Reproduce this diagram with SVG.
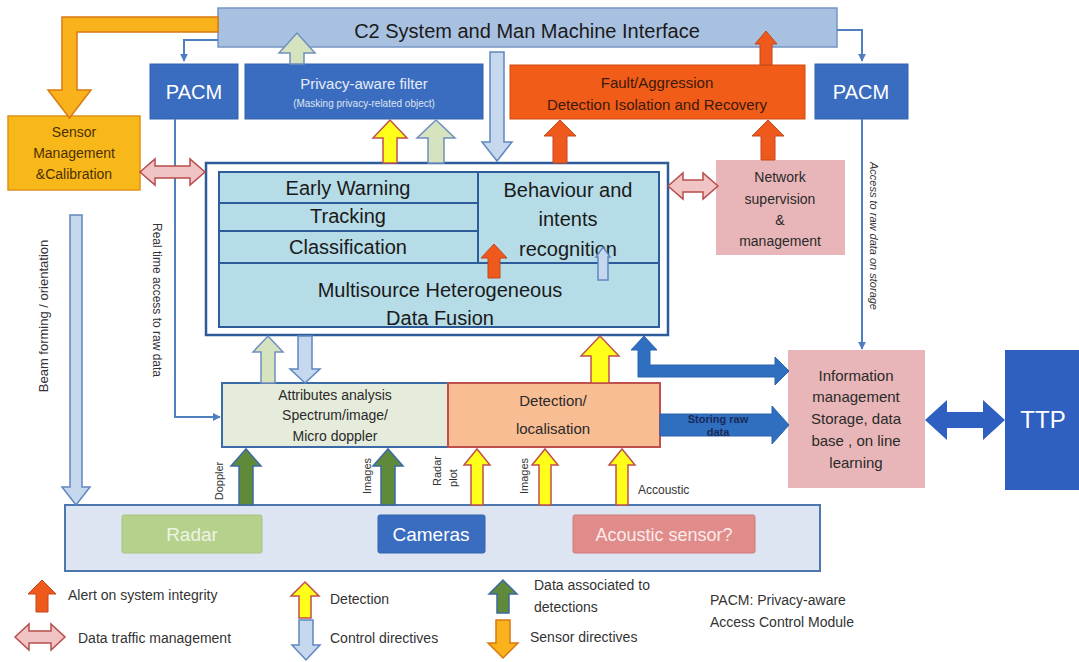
<svg xmlns="http://www.w3.org/2000/svg" width="1079" height="662" viewBox="0 0 1079 662">
<style>
text{font-family:"Liberation Sans",Arial,sans-serif;}
.c2{fill:#a9c1e0;stroke:#7595c4;stroke-width:1.5}
.blue{fill:#3a6cbf;stroke:#3262ad;stroke-width:1}
.fault{fill:#f25c19;stroke:#d04a10;stroke-width:1}
.sens{fill:#f9b819;stroke:#e0921a;stroke-width:1.5}
.outer{fill:#ffffff;stroke:#2e5c9a;stroke-width:2.5}
.cell{fill:#b6dce8;stroke:#2e5c9a;stroke-width:2}
.pink{fill:#e8b6b8;stroke:none}
.ttp{fill:#2f5fc0}
.attr{fill:#e6ecdb;stroke:#3b6aa8;stroke-width:2}
.det{fill:#f9bd94;stroke:#c0504d;stroke-width:2}
.bar{fill:#dce5f1;stroke:#4e77b0;stroke-width:2}
.radar{fill:#b5d18c;stroke:#a8c47e;stroke-width:1}
.acou{fill:#e08c8a;stroke:#d07a78;stroke-width:1}
.aRed{fill:#ef5a1c;stroke:#c0461a;stroke-width:1}
.aYel{fill:#ffff1a;stroke:#c0504d;stroke-width:1.5}
.aPg{fill:#d5e3bf;stroke:#6f8fbf;stroke-width:1.5}
.aLb{fill:#c6d8ee;stroke:#5f87bf;stroke-width:1.5}
.aGr{fill:#5f8a3a;stroke:#3d6aa0;stroke-width:1.5}
.aOr{fill:#f9b11c;stroke:#d87a12;stroke-width:1.5}
.aPk{fill:#f0c4c4;stroke:#b84c4c;stroke-width:1.5}
.aBl{fill:#2f6fbf;stroke:#2a62ad;stroke-width:1}
.thin{fill:none;stroke:#4f7fbf;stroke-width:2}
.big{font-size:20px;fill:#1a1a1a;text-anchor:middle}
.mid{font-size:15px;fill:#2a2a2a;text-anchor:middle}
.sm{font-size:12px;fill:#333;}
.leg{font-size:14px;fill:#333;}
.w20{font-size:20px;fill:#ffffff;text-anchor:middle}
</style>
<defs>
<marker id="ah" viewBox="0 0 10 10" refX="9" refY="5" markerWidth="4" markerHeight="4" orient="auto">
<path d="M0,0 L10,5 L0,10 Z" fill="#4f7fbf"/>
</marker>
</defs>

<g id="c2"><rect class="c2" x="218" y="8" width="619" height="39"/>
<text class="big" x="527" y="38">C2 System and Man Machine Interface</text></g>

<g id="pacm-left"><rect class="blue" x="150" y="64" width="88" height="55"/>
<text class="w20" x="194" y="99">PACM</text></g>

<g id="privacy-filter"><rect class="blue" x="245" y="64" width="238" height="55"/>
<text x="364" y="89" style="font-size:15px;fill:#e6ecf8;text-anchor:middle">Privacy-aware filter</text>
<text x="364" y="107" style="font-size:10px;fill:#dfe6f4;text-anchor:middle">(Masking privacy-related object)</text></g>

<g id="fault"><rect class="fault" x="510" y="65" width="295" height="54"/>
<text class="mid" x="657" y="88" style="fill:#3a1a0a">Fault/Aggression</text>
<text class="mid" x="657" y="110" style="fill:#3a1a0a">Detection Isolation and Recovery</text></g>

<g id="pacm-right"><rect class="blue" x="815" y="64" width="93" height="55"/>
<text class="w20" x="861" y="99">PACM</text></g>

<g id="sensor-mgmt"><rect class="sens" x="8" y="116" width="132" height="74"/>
<text class="mid" x="74" y="137" style="font-size:14px;fill:#4a3000">Sensor</text>
<text class="mid" x="74" y="158" style="font-size:14px;fill:#4a3000">Management</text>
<text class="mid" x="74" y="179" style="font-size:14px;fill:#4a3000">&amp;Calibration</text></g>

<g id="fusion">
<rect class="outer" x="206" y="163" width="462" height="172"/>
<rect class="cell" x="219" y="172" width="259" height="31"/>
<rect class="cell" x="219" y="203" width="259" height="28"/>
<rect class="cell" x="219" y="231" width="259" height="32"/>
<rect class="cell" x="478" y="172" width="181" height="91"/>
<rect class="cell" x="219" y="263" width="440" height="64"/>
<text class="big" x="348" y="195">Early Warning</text>
<text class="big" x="348" y="223">Tracking</text>
<text class="big" x="348" y="254">Classification</text>
<text class="big" x="568" y="197">Behaviour and</text>
<text class="big" x="568" y="226">intents</text>
<text class="big" x="568" y="256">recognition</text>
<text class="big" x="440" y="297">Multisource Heterogeneous</text>
<text class="big" x="440" y="325">Data Fusion</text>
<path class="aRed" d="M488,278 L488,258 L481,258 L494,244 L507,258 L500,258 L500,278 Z"/>
<path class="aLb" d="M598,280 L598,257 L596,257 L603,247 L610,257 L608,257 L608,280 Z"/>
</g>

<g id="network"><rect class="pink" x="716" y="160" width="129" height="95"/>
<text class="mid" x="780" y="182" style="font-size:14px">Network</text>
<text class="mid" x="780" y="204" style="font-size:14px">supervision</text>
<text class="mid" x="780" y="225" style="font-size:14px">&amp;</text>
<text class="mid" x="780" y="246" style="font-size:14px">management</text></g>

<g id="info"><rect class="pink" x="788" y="350" width="137" height="138"/>
<text class="mid" x="856" y="381">Information</text>
<text class="mid" x="856" y="402">management</text>
<text class="mid" x="856" y="424">Storage, data</text>
<text class="mid" x="856" y="446">base , on line</text>
<text class="mid" x="856" y="468">learning</text></g>

<g id="ttp"><rect class="ttp" x="1005" y="350" width="74" height="140"/>
<text x="1043" y="428" style="font-size:24px;fill:#ffffff;text-anchor:middle">TTP</text></g>

<g id="attributes"><rect class="attr" x="222" y="383" width="226" height="64"/>
<text class="mid" x="335" y="400" style="font-size:14px">Attributes analysis</text>
<text class="mid" x="335" y="420" style="font-size:14px">Spectrum/image/</text>
<text class="mid" x="335" y="441" style="font-size:14px">Micro doppler</text></g>

<g id="detection"><rect class="det" x="448" y="383" width="212" height="64"/>
<text class="mid" x="553" y="406">Detection/</text>
<text class="mid" x="553" y="434">localisation</text></g>

<g id="sensors">
<rect class="bar" x="65" y="505" width="755" height="66"/>
<g id="radar"><rect class="radar" x="122" y="515" width="140" height="38" rx="2"/>
<text x="192" y="541" style="font-size:19px;fill:#eef4e4;text-anchor:middle">Radar</text></g>
<g id="cameras"><rect class="blue" x="378" y="515" width="107" height="38" rx="2"/>
<text x="431" y="541" style="font-size:19px;fill:#ffffff;text-anchor:middle">Cameras</text></g>
<g id="acoustic"><rect class="acou" x="573" y="515" width="182" height="38" rx="2"/>
<text x="664" y="541" style="font-size:18px;fill:#fbeaea;text-anchor:middle">Acoustic sensor?</text></g>
</g>

<g id="connectors">
<path class="thin" d="M218,40 H184 V61" marker-end="url(#ah)"/>
<path class="thin" d="M175,119 V417 H220" marker-end="url(#ah)"/>
<path class="thin" d="M837,30 H862 V61" marker-end="url(#ah)"/>
<path class="thin" d="M862,119 V349" marker-end="url(#ah)"/>
<path class="aOr" d="M218,17 L62,17 L62,90 L48,90 L69.5,118 L91,90 L77,90 L77,32 L218,32 Z"/>
<path class="aPg" d="M290,64 L290,53 L279,53 L297,33 L315,53 L304,53 L304,64 Z"/>
<path class="aLb" d="M490,52 L490,142 L482,142 L497,161 L512,142 L504,142 L504,52 Z"/>
<path class="aYel" d="M383,163 L383,138 L373,138 L390,120 L407,138 L397,138 L397,163 Z"/>
<path class="aPg" d="M428,163 L428,138 L417,138 L436,120 L455,138 L444,138 L444,163 Z"/>
<path class="aRed" d="M553,163 L553,136 L544,136 L560,120 L576,136 L567,136 L567,163 Z"/>
<path class="aRed" d="M761,160 L761,136 L752,136 L768,120 L784,136 L775,136 L775,160 Z"/>
<path class="aRed" d="M760,65 L760,44 L755,44 L766,31 L777,44 L772,44 L772,65 Z"/>
<path class="aPk" d="M140,172 L155,159 L155,166 L190,166 L190,159 L205,172 L190,185 L190,178 L155,178 L155,185 Z"/>
<path class="aPk" d="M668,186 L683,173 L683,180 L703,180 L703,173 L718,186 L703,199 L703,192 L683,192 L683,199 Z"/>
<path class="aPg" d="M261,383 L261,352 L253,352 L268,336 L283,352 L275,352 L275,383 Z"/>
<path class="aLb" d="M298,336 L298,369 L290,369 L305,383 L320,369 L312,369 L312,336 Z"/>
<path class="aYel" d="M591,383 L591,356 L581,356 L600,336 L619,356 L609,356 L609,383 Z"/>
<path class="aBl" d="M638,377 L638,350 L631,350 L644,336 L657,350 L650,350 L650,365 L775,365 L775,357 L789,371 L775,385 L775,377 Z"/>
<path class="aBl" d="M660,414 L772,414 L772,406 L789,425 L772,444 L772,436 L660,436 Z"/>
<path fill="#2f5fc0" d="M925,420 L947,400 L947,412 L983,412 L983,400 L1005,420 L983,440 L983,428 L947,428 L947,440 Z"/>
<path class="aLb" d="M70,215 L70,487 L62,487 L76,505 L90,487 L82,487 L82,215 Z"/>
<path class="aGr" d="M239,505 L239,466 L231,466 L246,449 L261,466 L253,466 L253,505 Z"/>
<path class="aGr" d="M381,505 L381,466 L373,466 L388,449 L403,466 L395,466 L395,505 Z"/>
<path class="aYel" d="M471,505 L471,465 L464,465 L477,449 L490,465 L483,465 L483,505 Z"/>
<path class="aYel" d="M539,505 L539,465 L532,465 L545,449 L558,465 L551,465 L551,505 Z"/>
<path class="aYel" d="M616,505 L616,465 L609,465 L622,449 L635,465 L628,465 L628,505 Z"/>
</g>

<g id="labels">
<text class="sm" transform="translate(153,300) rotate(90)" text-anchor="middle">Real time access to raw data</text>
<text class="sm" transform="translate(48,316) rotate(-90)" text-anchor="middle" style="font-size:13px">Beam forming / orientation</text>
<text class="sm" transform="translate(870,236) rotate(90)" text-anchor="middle" style="font-size:11px;font-style:italic">Access to raw data on storage</text>
<text class="sm" transform="translate(223,481) rotate(-90)" text-anchor="middle" style="font-size:11px">Doppler</text>
<text class="sm" transform="translate(371,476) rotate(-90)" text-anchor="middle" style="font-size:11px">Images</text>
<text class="sm" transform="translate(441,471) rotate(-90)" text-anchor="middle" style="font-size:11px">Radar</text>
<text class="sm" transform="translate(457,478) rotate(-90)" text-anchor="middle" style="font-size:11px">plot</text>
<text class="sm" transform="translate(528,476) rotate(-90)" text-anchor="middle" style="font-size:11px">Images</text>
<text class="sm" x="638" y="494" style="font-size:12px">Accoustic</text>
<text x="718" y="423" style="font-size:11px;font-weight:bold;fill:#1a2a5a;text-anchor:middle">Storing raw</text>
<text x="718" y="436" style="font-size:11px;font-weight:bold;fill:#1a2a5a;text-anchor:middle">data</text>
</g>

<g id="legend">
<path class="aRed" d="M36,612 L36,594 L28,594 L42,580 L56,594 L48,594 L48,612 Z"/>
<text class="leg" x="68" y="600">Alert on system integrity</text>
<path class="aYel" d="M299,618 L299,596 L291,596 L305,582 L319,596 L311,596 L311,618 Z"/>
<text class="leg" x="330" y="604">Detection</text>
<path class="aGr" d="M497,613 L497,594 L489,594 L503,580 L517,594 L509,594 L509,613 Z"/>
<text class="leg" x="534" y="590">Data associated to</text>
<text class="leg" x="534" y="612">detections</text>
<path class="aPk" d="M15,637 L29,624 L29,631 L51,631 L51,624 L65,637 L51,650 L51,643 L29,643 L29,650 Z"/>
<text class="leg" x="78" y="643">Data traffic management</text>
<path class="aLb" d="M299,620 L299,645 L292,645 L306,660 L320,645 L313,645 L313,620 Z"/>
<text class="leg" x="330" y="643">Control directives</text>
<path class="aOr" d="M496,620 L496,643 L488,643 L503,658 L518,643 L510,643 L510,620 Z"/>
<text class="leg" x="530" y="642">Sensor directives</text>
<text class="leg" x="710" y="605">PACM: Privacy-aware</text>
<text class="leg" x="710" y="627">Access Control Module</text>
</g>
</svg>
